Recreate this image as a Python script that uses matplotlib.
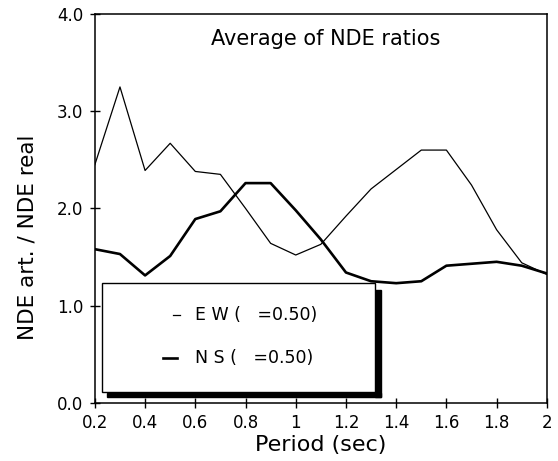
import numpy as np
import matplotlib.pyplot as plt
from matplotlib.patches import Rectangle

# periods (sec)
period = [0.2, 0.3, 0.4, 0.5, 0.6, 0.7, 0.8, 0.9, 1.0, 1.1,
          1.2, 1.3, 1.4, 1.5, 1.6, 1.7, 1.8, 1.9, 2.0]
# average NDE ratios
ew_ratio = [2.45, 3.25, 2.39, 2.67, 2.38, 2.35, 2.00, 1.64, 1.52, 1.63,
            1.92, 2.20, 2.40, 2.60, 2.60, 2.24, 1.78, 1.44, 1.32]
ns_ratio = [1.58, 1.53, 1.31, 1.51, 1.89, 1.97, 2.26, 2.26, 1.98, 1.68,
            1.34, 1.25, 1.23, 1.25, 1.41, 1.43, 1.45, 1.41, 1.33]

xticks = [0.2, 0.4, 0.6, 0.8, 1.0, 1.2, 1.4, 1.6, 1.8, 2.0]
xticklabels = ["0.2", "0.4", "0.6", "0.8", "1", "1.2", "1.4", "1.6", "1.8", "2"]
yticks = [0.0, 1.0, 2.0, 3.0, 4.0]
yticklabels = ["0.0", "1.0", "2.0", "3.0", "4.0"]

labels = ["E W (   =0.50)", "N S (   =0.50)"]
title = "Average of NDE ratios"

plt.rcParams['font.family'] = ['DejaVu Sans']

fig = plt.figure(figsize=(5.58, 4.61), dpi=100)
ax = fig.add_axes([0.170, 0.1265, 0.810, 0.843])

ax.plot(period, ew_ratio, color='black', lw=0.9, zorder=3)
ax.plot(period, ns_ratio, color='black', lw=1.9, zorder=3)

ax.set_xlim(0.2, 2.0)
ax.set_ylim(0.0, 4.0)
ax.set_xticks(xticks)
ax.set_xticklabels(xticklabels)
ax.set_yticks(yticks)
ax.set_yticklabels(yticklabels)
ax.tick_params(direction='inout', length=7, width=1, labelsize=12, pad=5)
for s in ax.spines.values():
    s.set_linewidth(1.1)

ax.set_xlabel("Period (sec)", fontsize=16, labelpad=2)
ax.set_ylabel("NDE art. / NDE real", fontsize=15.5, labelpad=8)
ax.yaxis.set_label_coords(-0.128, 0.426)

ax.text(1.12, 3.74, title, fontsize=15, ha='center', va='center')

# legend box with a heavy drop shadow
ax.add_patch(Rectangle((0.25, 0.06), 1.09, 0.04, color='black', zorder=4))
ax.add_patch(Rectangle((1.316, 0.06), 0.024, 1.10, color='black', zorder=4))
ax.add_patch(Rectangle((0.227, 0.113), 1.089, 1.124, facecolor='white',
                       edgecolor='black', lw=1.0, zorder=5))

ax.plot([0.511, 0.539], [0.90, 0.90], color='black', lw=0.9, zorder=6)
ax.text(0.598, 0.90, labels[0], fontsize=12.5, va='center', zorder=6)
ax.plot([0.471, 0.527], [0.46, 0.46], color='black', lw=1.9, zorder=6)
ax.text(0.598, 0.46, labels[1], fontsize=12.5, va='center', zorder=6)

fig.savefig("out.png", dpi=100)
